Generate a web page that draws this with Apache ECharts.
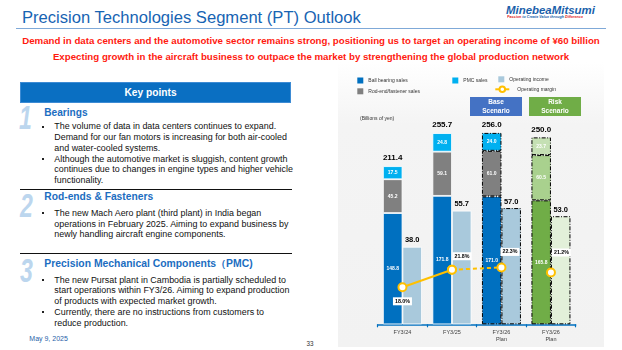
<!DOCTYPE html>
<html>
<head>
<meta charset="utf-8">
<title>Precision Technologies Segment (PT) Outlook</title>
<script src="https://cdn.jsdelivr.net/npm/echarts@6.0.0/dist/echarts.min.js"></script>
<style>
  html, body { margin: 0; padding: 0; }
  body { width: 622px; height: 350px; position: relative; overflow: hidden; background: #fff;
         font-family: Arial, "Liberation Sans", sans-serif; --bf: 8.6px; }
  .abs { position: absolute; white-space: nowrap; }
  #title { left: 22px; top: 8px; font-size: 16.5px; line-height: 18px; color: #1764b3; }
  #rule { left: 16px; top: 28px; width: 590px; height: 0; border-top: 1.5px solid #7fa9d8; }
  .red { left: 0; width: 622px; text-align: center; font-weight: bold; color: #ff1a10; font-size: 9px; line-height: 12px; }
  #red1 { top: 35px; }
  #red2 { top: 50.7px; }
  #logo { left: 506px; top: 4px; font-size: 11px; line-height: 13px; font-weight: bold; font-style: italic; color: #1b5faa; }
  #tag { left: 507px; top: 14.5px; font-size: 7.4px; line-height: 8px; font-weight: bold; font-style: italic; color: #1b5faa;
         transform: scale(0.5); transform-origin: 0 0; }
  #tag b { color: #e2231a; }
  #keybox { left: 19.5px; top: 81.5px; width: 271px; height: 21px; background: #0a6fc2; box-sizing: border-box;
            border: 1px solid #3d8bd4; color: #fff; font-weight: bold; font-size: 10.2px; line-height: 19px; }
  #keybox span { position: absolute; left: 104px; }
  .sep { left: 19.5px; width: 272px; height: 0; border-top: 1px solid #111; }
  .num { font-size: 33px; line-height: 34px; font-weight: bold; font-style: italic; color: #bcd6ee;
         transform: scaleX(0.7); transform-origin: 0 50%; }
  .head { left: 44.3px; font-size: 10px; line-height: 12px; font-weight: bold; color: #1b6dc1; }
  .txt { left: 54.3px; font-size: var(--bf); line-height: 10.8px; color: #111; }
  .txt div { position: relative; }
  .txt div::before { content: ""; position: absolute; left: -12px; top: 4.5px; width: 2px; height: 2px; background: #222; }
  #date { left: 29.3px; top: 335.3px; font-size: 7px; line-height: 8px; color: #1f5fa8; }
  #page { left: 306.5px; top: 340px; font-size: 6.3px; line-height: 8px; color: #333; }
  #chart { position: absolute; left: 338px; top: 62px; width: 266px; height: 285px;
           background: linear-gradient(#ffffff 0%, #f4f4f4 22%, #f2f2f2 100%); }
</style>
</head>
<body>
<div class="abs" id="title"><span id="titleText">Precision Technologies Segment (PT) Outlook</span></div>
<div class="abs" id="rule"></div>
<div class="abs" id="logo"><span id="logoText">MinebeaMitsumi</span></div>
<div class="abs" id="tag"><b>Passion</b> to Create Value through <b>Difference</b></div>
<div class="abs red" id="red1"><span id="red1Text">Demand in data centers and the automotive sector remains strong, positioning us to target an operating income of ¥60 billion</span></div>
<div class="abs red" id="red2"><span id="red2Text">Expecting growth in the aircraft business to outpace the market by strengthening the global production network</span></div>

<div class="abs" id="keybox"><span>Key points</span></div>

<div class="abs num" style="left:19px; top:101px;">1</div>
<div class="abs head" style="top:106.7px;"><span id="h1">Bearings</span></div>
<div class="abs txt" style="top:121.3px;">
  <div><span id="measure">The volume of data in data centers continues to expand.</span><br>Demand for our fan motors is increasing for both air-cooled<br>and water-cooled systems.</div>
  <div>Although the automotive market is sluggish, content growth<br>continues due to changes in engine types and higher vehicle<br>functionality.</div>
</div>
<div class="abs sep" style="top:188.5px;"></div>

<div class="abs num" style="left:19.5px; top:189px;">2</div>
<div class="abs head" style="top:190.7px;"><span id="h2">Rod-ends &amp; Fasteners</span></div>
<div class="abs txt" style="top:207.9px;">
  <div>The new Mach Aero plant (third plant) in India began<br>operations in February 2025. Aiming to expand business by<br>newly handling aircraft engine components.</div>
</div>
<div class="abs sep" style="top:253px;"></div>

<div class="abs num" style="left:19.5px; top:254.3px;">3</div>
<div class="abs head" style="top:257.5px;"><span id="h3">Precision Mechanical Components（PMC)</span></div>
<div class="abs txt" style="top:274.6px;">
  <div>The new Pursat plant in Cambodia is partially scheduled to<br>start operations within FY3/26. Aiming to expand production<br>of products with expected market growth.</div>
  <div>Currently, there are no instructions from customers to<br>reduce production.</div>
</div>

<div class="abs" id="date">May 9, 2025</div>
<div class="abs" id="page">33</div>

<div id="chart"></div>

<script>
// chart data (billions of yen)
var categories = ['FY3/24', 'FY3/25', 'FY3/26\nPlan', 'FY3/26\nPlan'];
var ballBearingSales = [148.8, 171.8, 171.0, 165.8];
var rodEndSales = [45.2, 59.1, 61.0, 60.5];
var pmcSales = [17.5, 24.8, 24.0, 23.7];
var salesTotals = [211.4, 255.7, 256.0, 250.0];
var operatingIncome = [38.0, 55.7, 57.0, 53.0];
var operatingMargin = [18.0, 21.8, 22.3, 21.2];

function fit(id, w) {
    var el = document.getElementById(id);
    var fs = parseFloat(getComputedStyle(el).fontSize);
    var nfs = fs * w / el.getBoundingClientRect().width;
    el.style.fontSize = nfs + 'px';
    return nfs;
}
fit('titleText', 339);
fit('red1Text', 578);
fit('red2Text', 517);
fit('logoText', 89);
fit('h1', 43.3);
fit('h2', 109);
fit('h3', 209);
var bf = fit('measure', 222);
document.body.style.setProperty('--bf', bf + 'px');
document.getElementById('measure').style.fontSize = '';

var FONT = 'Arial, "Liberation Sans", sans-serif';
var PLAN = 2, RISK = 3;
var dashDot = [4, 1.5, 1, 1.5];

// per-bar look: plain, base plan (dash-dot outline) and risk plan (green)
function barData(values, color, riskColor) {
    return values.map(function (v, i) {
        var st = { color: color, borderColor: '#fff', borderWidth: 0.8 };
        if (i === PLAN) st = { color: color, borderColor: '#000', borderWidth: 1, borderType: dashDot };
        if (i === RISK) st = { color: riskColor, borderColor: '#000', borderWidth: 1, borderType: dashDot };
        return { value: v, itemStyle: st };
    });
}

var insideLabel = {
    show: true, position: 'inside', color: '#fff', fontSize: 5, fontWeight: 'bold',
    formatter: function (p) { return p.value.toFixed(1); }
};

// label placement for the margin points
var marginLabelPos = [
    { position: 'bottom', distance: 5, offset: [0, 0] },
    { position: 'top', distance: 4.5, offset: [10, 0] },
    { position: 'top', distance: 4.5, offset: [8.5, -2] },
    { position: 'top', distance: 4.5, offset: [10.5, -6.5] }
];
function marginPart(indices, showLabel) {
    return operatingMargin.map(function (v, i) {
        if (indices.indexOf(i) < 0) return '-';
        var lp = marginLabelPos[i];
        return { value: v, label: { show: showLabel.indexOf(i) >= 0, position: lp.position, distance: lp.distance, offset: lp.offset } };
    });
}
var marginLabel = {
    show: true, color: '#000', fontSize: 5.3, fontWeight: 'bold', backgroundColor: '#fff', padding: [1.5, 2],
    formatter: function (p) { return p.value.toFixed(1) + '%'; }
};
var marginSymbol = { color: '#fff', borderColor: '#ffc000', borderWidth: 2 };

var legendCommon = {
    orient: 'horizontal', padding: 0, itemWidth: 6, itemHeight: 6, icon: 'rect', selectedMode: false,
    textStyle: { fontSize: 5, color: '#333', fontFamily: FONT }
};
function legendAt(name, left, top, extra) {
    return Object.assign({}, legendCommon, { data: [name], left: left, top: top }, extra || {});
}

var chart = echarts.init(document.getElementById('chart'));
var option = {
    animation: false,
    textStyle: { fontFamily: FONT },
    legend: [
        legendAt('Ball bearing sales', 19.3, 15.5),
        legendAt('Rod-end/fastener sales', 19.3, 26.3),
        legendAt('PMC sales', 114.3, 15.5),
        legendAt('Operating income', 160.3, 14.3),
        legendAt('Operating margin', 156.3, 23.5, {
            icon: null, itemWidth: 14, itemHeight: 7,
            textStyle: { fontSize: 5, color: '#333', fontFamily: FONT, padding: [0, 0, 0, 3] }
        })
    ],
    graphic: [
        {
            type: 'rect', left: 132, top: 35, shape: { width: 52, height: 19 }, style: { fill: '#4472c4' },
            textContent: { style: { text: 'Base\nScenario', fill: '#fff', font: 'bold 6.5px ' + FONT, align: 'center', lineHeight: 9 } },
            textConfig: { position: 'inside' }
        },
        {
            type: 'rect', left: 191, top: 35, shape: { width: 52, height: 19 }, style: { fill: '#70ad47' },
            textContent: { style: { text: 'Risk\nScenario', fill: '#fff', font: 'bold 6.5px ' + FONT, align: 'center', lineHeight: 9 } },
            textConfig: { position: 'inside' }
        },
        {
            type: 'text', left: 22, top: 54.5,
            style: { text: '(Billions of yen)', fill: '#333', font: '5px ' + FONT }
        }
    ],
    grid: { left: 39.7, right: 28.3, top: 38, bottom: 22.7, outerBoundsMode: 'none' },
    xAxis: {
        type: 'category',
        data: categories,
        axisLine: { show: true, lineStyle: { color: '#0070c0', width: 1.5 } },
        axisTick: { show: true, length: 3, lineStyle: { color: '#0070c0', width: 1.2 } },
        axisLabel: { interval: 0, fontSize: 5.5, color: '#404040', lineHeight: 7, margin: 5 },
        splitLine: { show: false }
    },
    yAxis: [
        { type: 'value', show: false, min: 0, max: 300, splitLine: { show: false } },
        { type: 'value', show: false, min: 0, max: 110, splitLine: { show: false } },
        { type: 'value', show: false, min: 10, max: 58.5, splitLine: { show: false } }
    ],
    series: [
        {
            name: 'Ball bearing sales', type: 'bar', stack: 'sales', barWidth: 19.5, barGap: '0%',
            itemStyle: { color: '#0070c0' }, label: insideLabel,
            data: barData(ballBearingSales, '#0070c0', '#70ad47')
        },
        {
            name: 'Rod-end/fastener sales', type: 'bar', stack: 'sales', barWidth: 19.5, barGap: '0%',
            itemStyle: { color: '#808080' }, label: insideLabel,
            data: barData(rodEndSales, '#808080', '#a9d18e')
        },
        {
            name: 'PMC sales', type: 'bar', stack: 'sales', barWidth: 19.5, barGap: '0%',
            itemStyle: { color: '#00b0f0' }, label: insideLabel,
            data: barData(pmcSales, '#00b0f0', '#c5e0b4')
        },
        {
            // zero-height cap carrying the total label
            name: 'total', type: 'bar', stack: 'sales', barWidth: 19.5, barGap: '0%',
            itemStyle: { color: 'rgba(0,0,0,0)', borderWidth: 0 },
            label: {
                show: true, position: 'top', distance: 4, color: '#000', fontSize: 8, fontWeight: 'bold',
                formatter: function (p) { return salesTotals[p.dataIndex].toFixed(1); }
            },
            data: salesTotals.map(function () { return 0; })
        },
        {
            name: 'Operating income', type: 'bar', yAxisIndex: 1, barWidth: 19.5, barGap: '0%',
            itemStyle: { color: '#a9c9dc' },
            label: {
                show: true, position: 'top', distance: 2.5, color: '#000', fontSize: 7.5, fontWeight: 'bold',
                formatter: function (p) { return p.value.toFixed(1); }
            },
            data: barData(operatingIncome, '#a9c9dc', '#e2f0d9')
        },
        {
            name: 'Operating margin', type: 'line', yAxisIndex: 2, z: 5,
            symbol: 'circle', symbolSize: 8, itemStyle: marginSymbol,
            lineStyle: { color: '#ffc000', width: 2 },
            label: marginLabel,
            data: marginPart([0, 1], [0, 1])
        },
        {
            name: 'Operating margin', type: 'line', yAxisIndex: 2, z: 4,
            symbol: 'circle', symbolSize: 8, itemStyle: marginSymbol,
            lineStyle: { color: '#ffc000', width: 2, type: [4, 3] },
            label: marginLabel,
            data: marginPart([1, 2], [2])
        },
        {
            name: 'Operating margin', type: 'line', yAxisIndex: 2, z: 5,
            symbol: 'circle', symbolSize: 8, itemStyle: marginSymbol,
            lineStyle: { color: '#ffc000', width: 2 },
            label: marginLabel,
            data: marginPart([3], [3])
        }
    ]
};
chart.setOption(option);
</script>
</body>
</html>
